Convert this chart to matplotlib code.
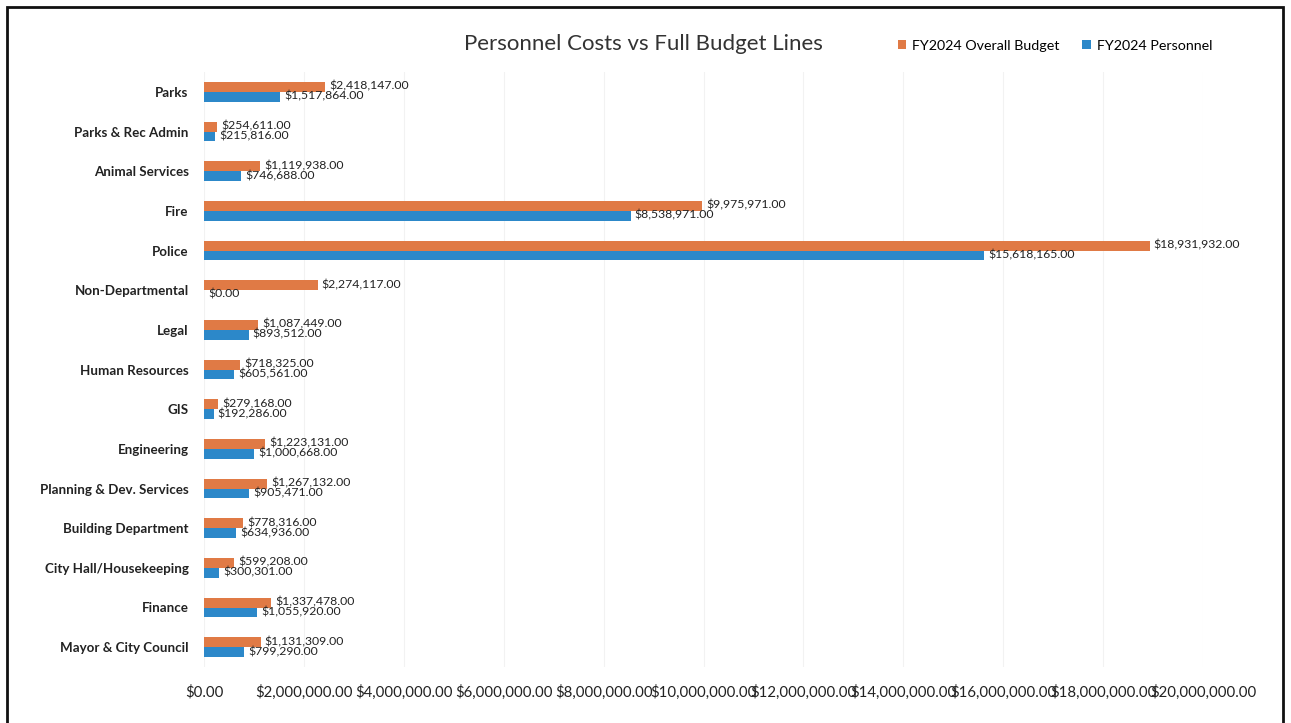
import matplotlib
matplotlib.use("Agg")
import matplotlib.pyplot as plt
from matplotlib.patches import Rectangle
from matplotlib.ticker import FuncFormatter, MultipleLocator

plt.rcParams["font.family"] = ["Lato", "DejaVu Sans"]

departments = [
    "Parks", "Parks & Rec Admin", "Animal Services", "Fire", "Police",
    "Non-Departmental", "Legal", "Human Resources", "GIS", "Engineering",
    "Planning & Dev. Services", "Building Department", "City Hall/Housekeeping",
    "Finance", "Mayor & City Council",
]
overall_budget = [
    2418147, 254611, 1119938, 9975971, 18931932,
    2274117, 1087449, 718325, 279168, 1223131,
    1267132, 778316, 599208, 1337478, 1131309,
]
personnel = [
    1517864, 215816, 746688, 8538971, 15618165,
    0, 893512, 605561, 192286, 1000668,
    905471, 634936, 300301, 1055920, 799290,
]

ORANGE = "#E07A45"
BLUE = "#2C88C9"

fig = plt.figure(figsize=(12.91, 7.23), dpi=100)
ax = fig.add_axes([204 / 1291, 1 - 667 / 723, (1203 - 204) / 1291, (667 - 72) / 723])

h = 0.25
ypos = list(range(len(departments)))
ax.barh([y - h / 2 for y in ypos], overall_budget, height=h, color=ORANGE,
        label="FY2024 Overall Budget", zorder=3)
ax.barh([y + h / 2 for y in ypos], personnel, height=h, color=BLUE,
        label="FY2024 Personnel", zorder=3)

money = lambda v: f"${v:,.2f}"
for y, ob, pe in zip(ypos, overall_budget, personnel):
    ax.annotate(money(ob), (ob, y - h / 2), xytext=(3, 0.5), textcoords="offset points",
                ha="left", va="center", fontsize=8.8, color="#222222")
    ax.annotate(money(pe), (pe, y + h / 2), xytext=(3, 0.5), textcoords="offset points",
                ha="left", va="center", fontsize=8.8, color="#222222")

ax.set_ylim(len(departments) - 0.5, -0.5)
ax.set_xlim(0, 20_000_000)
ax.xaxis.set_major_locator(MultipleLocator(2_000_000))
ax.xaxis.set_major_formatter(FuncFormatter(lambda v, p: money(v)))
ax.set_yticks(ypos)
ax.set_yticklabels(departments, fontsize=9.6, fontweight="bold", color="#222222")
ax.tick_params(axis="y", length=0, pad=11)
ax.tick_params(axis="x", length=0, pad=13, labelsize=10.8, labelcolor="#222222")
for s in ax.spines.values():
    s.set_visible(False)
ax.grid(axis="x", color="#f2f2f2", linewidth=0.8, zorder=0)

fig.text(643 / 1291, 1 - 44 / 723, "Personnel Costs vs Full Budget Lines",
         ha="center", va="center", fontsize=16, color="#333333")
fig.legend(loc="center", bbox_to_anchor=(1055 / 1291, 1 - 46 / 723), ncol=2,
           frameon=False, fontsize=10.3, handlelength=0.6, handleheight=0.6,
           handletextpad=0.4, columnspacing=1.6)

# frame around the whole chart
fig.patches.append(Rectangle((7 / 1291, -0.05), (1283 - 7) / 1291, 1.05 - 7 / 723,
                             transform=fig.transFigure, fill=False,
                             edgecolor="#111111", linewidth=2))

fig.savefig("out.png", dpi=100)
